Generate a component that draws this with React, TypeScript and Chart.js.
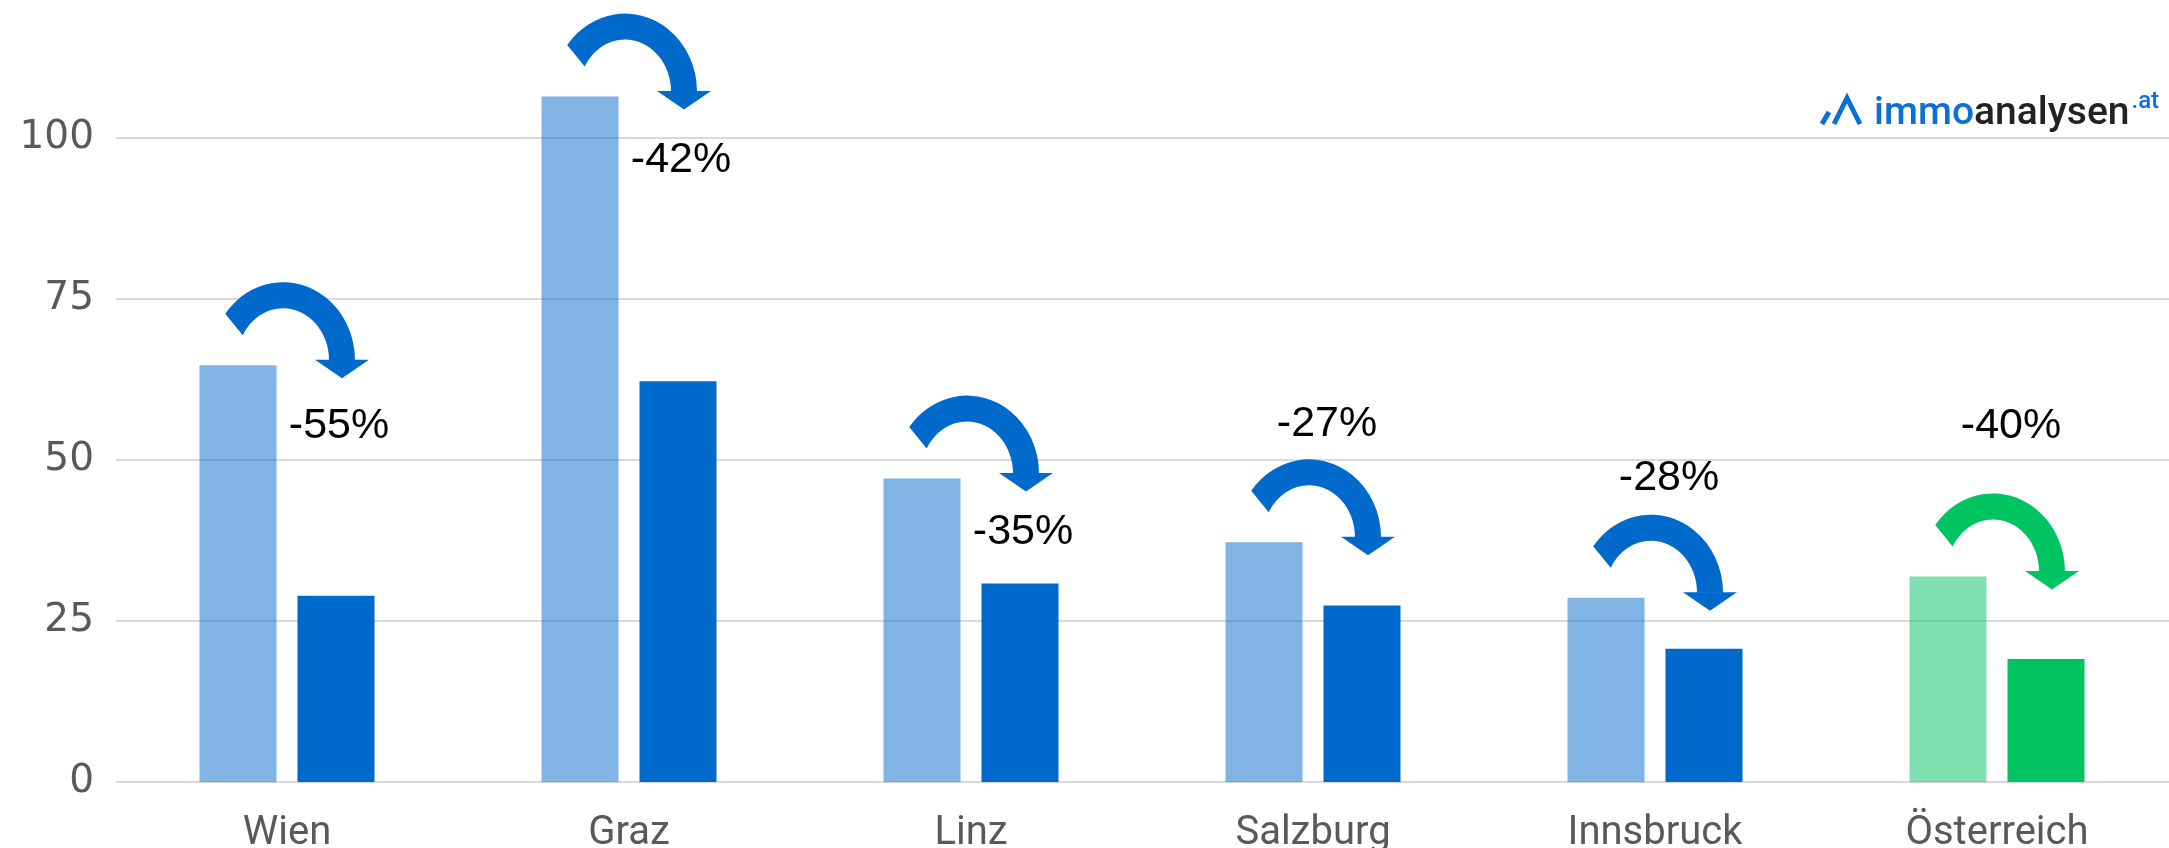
import React, { useEffect, useRef } from 'react';
import { Chart, registerables } from 'chart.js';

Chart.register(...registerables);

const categories = ['Wien', 'Graz', 'Linz', 'Salzburg', 'Innsbruck', 'Österreich'];
const valuesBefore = [64.7, 106.4, 47.1, 37.2, 28.6, 31.9];
const valuesAfter = [28.9, 62.2, 30.8, 27.4, 20.7, 19.1];
const changeLabels = ['-55%', '-42%', '-35%', '-27%', '-28%', '-40%'];
const labelAnchors = [55.3, 96.6, 38.8, 55.6, 47.1, 55.3];
const highlight = [false, false, false, false, false, true];
const yTicks = [0, 25, 50, 75, 100];

const BLUE = '#0069cc';
const BLUE_L = 'rgba(0,105,204,0.5)';
const GREEN = '#00c462';
const GREEN_L = 'rgba(0,196,98,0.5)';

const W = 2169;
const H = 848;

const gridPlugin = {
  id: 'customGrid',
  beforeDatasetsDraw(chart: any) {
    const { ctx, chartArea, scales } = chart;
    const y = scales.y;
    ctx.save();
    ctx.strokeStyle = '#d9d9d9';
    ctx.lineWidth = 2;
    yTicks.forEach((v) => {
      const py = Math.round(y.getPixelForValue(v));
      ctx.beginPath();
      ctx.moveTo(chartArea.left, py);
      ctx.lineTo(chart.width, py);
      ctx.stroke();
    });
    ctx.restore();
  },
};

function drawArrow(ctx: CanvasRenderingContext2D, c: number, yL: number, color: string) {
  const cx = c - 4;
  const cy = yL - 5;
  const rxo = 72, ryo = 78, t = 26;
  const rxi = rxo - t, ryi = ryo - t;
  const aOuter = (216.6 / 180) * Math.PI;
  const aInner = (208.8 / 180) * Math.PI;
  ctx.save();
  ctx.fillStyle = color;
  ctx.beginPath();
  ctx.ellipse(cx, cy, rxo, ryo, 0, aOuter, 2 * Math.PI, false);
  ctx.lineTo(cx + rxi, cy);
  ctx.ellipse(cx, cy, rxi, ryi, 0, 2 * Math.PI, aInner, true);
  ctx.closePath();
  ctx.fill();
  const xs = cx + (rxo + rxi) / 2;
  ctx.beginPath();
  ctx.moveTo(xs - 27, cy - 0.5);
  ctx.lineTo(xs + 27, cy - 0.5);
  ctx.lineTo(xs, cy + 18);
  ctx.closePath();
  ctx.fill();
  ctx.restore();
}

const arrowPlugin = {
  id: 'arrows',
  afterDatasetsDraw(chart: any) {
    const { ctx, scales } = chart;
    const meta = chart.getDatasetMeta(0);
    categories.forEach((_, i) => {
      const c = scales.x.getPixelForValue(i);
      const yL = meta.data[i].y;
      drawArrow(ctx, c, yL, highlight[i] ? GREEN : BLUE);
      const ly = scales.y.getPixelForValue(labelAnchors[i]);
      const lx = labelAnchors[i] < valuesBefore[i] ? c + 52 : c + 14;
      ctx.save();
      ctx.fillStyle = '#000';
      ctx.font = '43px "Liberation Sans", Arial, sans-serif';
      ctx.textAlign = 'center';
      ctx.textBaseline = 'middle';
      ctx.fillText(changeLabels[i], lx, ly);
      ctx.restore();
    });
  },
};

const logoPlugin = {
  id: 'logo',
  afterDraw(chart: any) {
    const { ctx, chartArea } = chart;
    const x0 = chartArea.right - 346;
    const base = 124;
    ctx.save();
    ctx.strokeStyle = '#0a6fd6';
    ctx.lineWidth = 5;
    ctx.lineCap = 'butt';
    ctx.beginPath();
    ctx.moveTo(x0, base);
    ctx.lineTo(x0 + 7, base - 12);
    ctx.stroke();
    ctx.beginPath();
    ctx.moveTo(x0 + 12, base);
    ctx.lineTo(x0 + 25, base - 26);
    ctx.lineTo(x0 + 38, base);
    ctx.stroke();
    ctx.font = '500 39px Roboto, "Noto Sans", sans-serif';
    ctx.textBaseline = 'alphabetic';
    ctx.textAlign = 'left';
    let x = x0 + 52;
    ctx.fillStyle = '#0a6fd6';
    ctx.fillText('immo', x, base);
    x += ctx.measureText('immo').width;
    ctx.fillStyle = '#222';
    ctx.fillText('analysen', x, base);
    x += ctx.measureText('analysen').width + 2;
    ctx.font = '500 24px Roboto, "Noto Sans", sans-serif';
    ctx.fillStyle = '#0a6fd6';
    ctx.fillText('.at', x, base - 16);
    ctx.restore();
  },
};

export default function App() {
  const ref = useRef<HTMLCanvasElement>(null);
  useEffect(() => {
    if (!ref.current) return;
    const chart = new Chart(ref.current, {
      type: 'bar',
      data: {
        labels: categories,
        datasets: [
          {
            data: valuesBefore,
            backgroundColor: highlight.map((h) => (h ? GREEN_L : BLUE_L)),
            borderWidth: 0,
            categoryPercentage: 0.573,
            barPercentage: 0.786,
          },
          {
            data: valuesAfter,
            backgroundColor: highlight.map((h) => (h ? GREEN : BLUE)),
            borderWidth: 0,
            categoryPercentage: 0.573,
            barPercentage: 0.786,
          },
        ],
      },
      options: {
        responsive: false,
        animation: false,
        devicePixelRatio: 1,
        layout: { padding: { top: 9, right: 1, left: 0, bottom: 0 } },
        plugins: { legend: { display: false }, tooltip: { enabled: false } },
        scales: {
          x: {
            grid: { display: false, drawTicks: false },
            border: { display: false },
            afterFit: (axis: any) => {
              axis.height = 66;
            },
            ticks: {
              padding: 28,
              color: '#595959',
              font: { family: 'Roboto', size: 40 },
              maxRotation: 0,
            },
          },
          y: {
            min: 0,
            max: 120,
            grid: { display: false, drawTicks: false },
            border: { display: false },
            afterBuildTicks: (axis: any) => {
              axis.ticks = yTicks.map((v) => ({ value: v }));
            },
            afterFit: (axis: any) => {
              axis.width = 116;
              axis.paddingTop = 0;
              axis.paddingBottom = 0;
            },
            ticks: {
              padding: 22,
              color: '#595959',
              font: { family: '"DejaVu Sans"', size: 39 },
            },
          },
        },
      },
      plugins: [gridPlugin, arrowPlugin, logoPlugin],
    } as any);
    return () => chart.destroy();
  }, []);
  return (
    <div style={{ position: 'fixed', left: 0, top: 0, width: W, height: 848, overflow: 'hidden', background: '#fff' }}>
      <canvas ref={ref} width={W} height={H} style={{ width: W, height: H, display: 'block' }} />
    </div>
  );
}
